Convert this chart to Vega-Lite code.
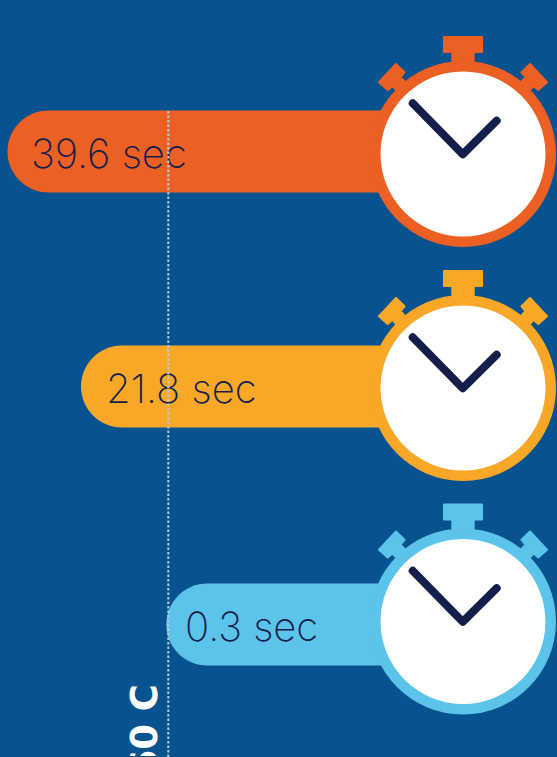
{
"$schema":"https://vega.github.io/schema/vega-lite/v6.json",
"width":557,"height":757,
"autosize":{"type":"fit","contains":"padding"},
"padding":0,
"background":"#07538F",
"config":{"view":{"stroke":null}},
"datasets":{
"times":[
{"rank":1,"seconds":39.6,"label":"39.6 sec"},
{"rank":2,"seconds":21.8,"label":"21.8 sec"},
{"rank":3,"seconds":0.3,"label":"0.3 sec"}],
"marker":[{"seconds":0,"marker":"60 C"}]
},
"resolve":{"scale":{"x":"independent","y":"independent"}},
"layer":[
{"data":{"name":"times"},
"mark":{"type":"bar","orient":"horizontal","size":82,"cornerRadius":41},
"encoding":{
"x":{"field":"seconds","type":"quantitative","axis":null,"scale":{"domain":[39.6,21.8,0.3,0,-73.75],"range":[7.5,81,166.3,168,463]}},
"x2":{"datum":-73.75},
"y":{"field":"rank","type":"quantitative","axis":null,"scale":{"domain":[1,2,3],"range":[151.5,386.5,624.5],"padding":0}},
"color":{"field":"label","type":"nominal","legend":null,"scale":{"domain":["39.6 sec","21.8 sec","0.3 sec"],"range":["#EC6024","#F9A727","#5CC3EA"]}}
}},
{"data":{"name":"times"},
"mark":{"type":"point","filled":true,"opacity":1,"size":40000,"strokeWidth":2,"strokeJoin":"round",
"shape":"M-0.92,0 A0.92,0.92 0 1,1 0.92,0 A0.92,0.92 0 1,1 -0.92,0 Z M-0.19,-1.17 H0.19 V-1.02 H0.107 V-0.85 H-0.107 V-1.02 H-0.19 Z M0.67,-0.9 L0.84,-0.717 L0.753,-0.64 L0.707,-0.681 L0.605,-0.57 L0.523,-0.658 L0.625,-0.769 L0.585,-0.817 Z M-0.585,-0.817 L-0.625,-0.769 L-0.523,-0.658 L-0.605,-0.57 L-0.707,-0.681 L-0.753,-0.64 L-0.84,-0.717 L-0.67,-0.9 Z"},
"encoding":{
"x":{"datum":-73.75,"type":"quantitative","axis":null,"scale":{"domain":[39.6,21.8,0.3,0,-73.75],"range":[7.5,81,166.3,168,463]}},
"y":{"field":"rank","type":"quantitative","axis":null,"scale":{"domain":[1,2,3],"range":[154,388,621.5]}},
"color":{"field":"label","type":"nominal","legend":null},
"stroke":{"field":"label","type":"nominal","legend":null,"scale":{"domain":["39.6 sec","21.8 sec","0.3 sec"],"range":["#EC6024","#F9A727","#5CC3EA"]}}
}},
{"data":{"name":"times"},
"mark":{"type":"point","filled":true,"opacity":1,"size":27225,"shape":"circle","color":"#FFFFFF"},
"encoding":{
"x":{"datum":-73.75,"type":"quantitative","axis":null,"scale":{"domain":[39.6,21.8,0.3,0,-73.75],"range":[7.5,81,166.3,168,463]}},
"y":{"field":"rank","type":"quantitative","axis":null,"scale":{"domain":[1,2,3],"range":[154,388,621.5]}}
}},
{"data":{"name":"times"},
"mark":{"type":"point","filled":false,"opacity":1,"size":40000,"stroke":"#141E4B","strokeWidth":8,"strokeCap":"round","strokeJoin":"round",
"shape":"M-0.503,-0.507 L-0.003,0.003 L0.337,-0.333"},
"encoding":{
"x":{"datum":-73.75,"type":"quantitative","axis":null,"scale":{"domain":[39.6,21.8,0.3,0,-73.75],"range":[7.5,81,166.3,168,463]}},
"y":{"field":"rank","type":"quantitative","axis":null,"scale":{"domain":[1,2,3],"range":[154,388,621.5]}}
}},
{"data":{"name":"times"},
"mark":{"type":"text","align":"left","baseline":"middle","font":"Inter","fontWeight":200,"fontSize":40,"color":"#141E4B"},
"encoding":{
"x":{"field":"seconds","type":"quantitative","axis":null,"scale":{"domain":[39.6,21.8,0.3],"range":[31,106,185]}},
"y":{"field":"rank","type":"quantitative","axis":null,"scale":{"domain":[1,2,3],"range":[156,390.5,629]}},
"text":{"field":"label"}
}},
{"data":{"name":"marker"},
"mark":{"type":"rule","stroke":"#B8CADB","strokeWidth":2,"strokeDash":[2.5,2]},
"encoding":{
"x":{"field":"seconds","type":"quantitative","axis":null,"scale":{"domain":[39.6,21.8,0.3,0,-73.75],"range":[7.5,81,166.3,168.3,463]}},
"y":{"datum":0,"type":"quantitative","axis":null,"scale":{"domain":[0,1],"range":[111,757]}},
"y2":{"datum":1}
}},
{"data":{"name":"marker"},
"mark":{"type":"text","clip":true,"angle":270,"align":"right","baseline":"alphabetic","dy":-11,"font":"DejaVu Sans","fontWeight":700,"fontSize":37,"color":"#FFFFFF"},
"encoding":{
"x":{"field":"seconds","type":"quantitative","axis":null,"scale":{"domain":[39.6,21.8,0.3,0,-73.75],"range":[7.5,81,166.3,168,463]}},
"y":{"datum":0.887,"type":"quantitative","axis":null,"scale":{"domain":[0,1],"range":[111,757]}},
"text":{"field":"marker"}
}}
]
}
